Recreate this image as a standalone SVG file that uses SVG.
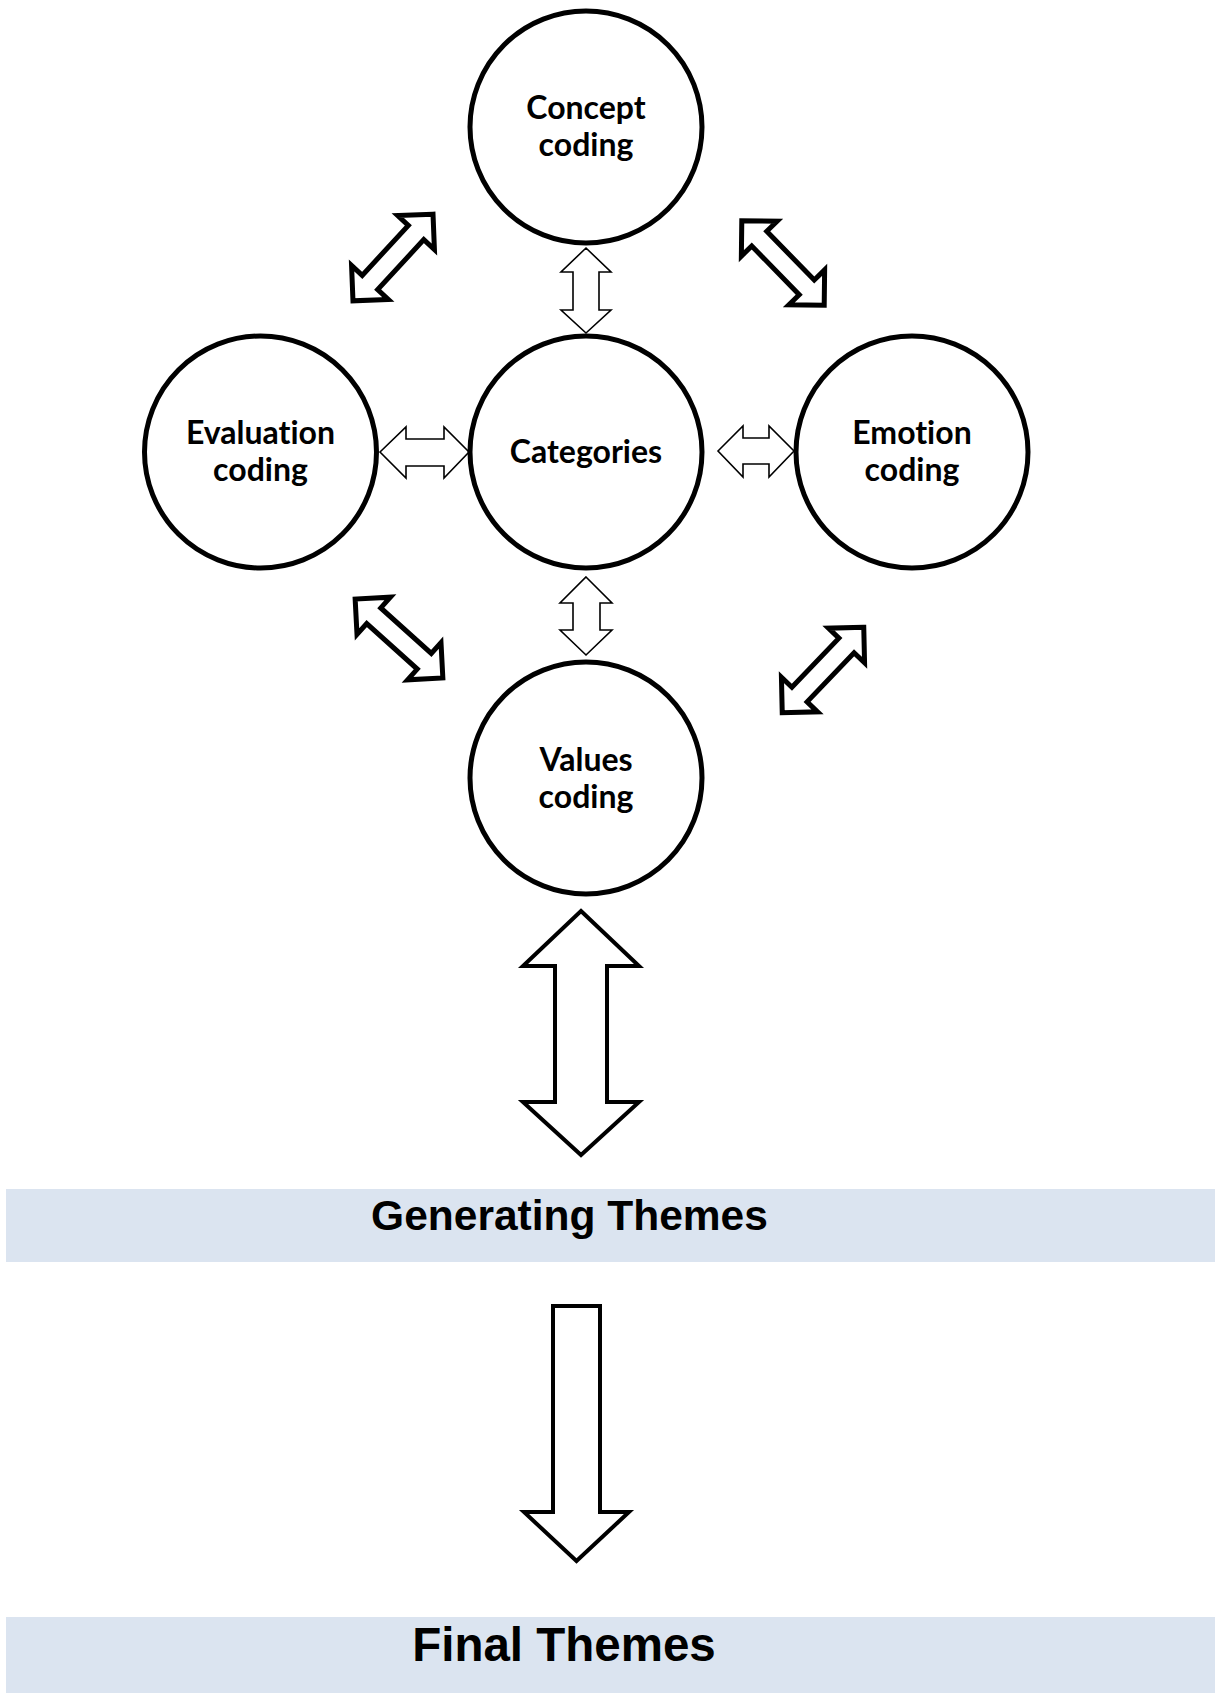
<svg xmlns="http://www.w3.org/2000/svg" width="1215" height="1693" viewBox="0 0 1215 1693">
<style>
.node circle{fill:#fff;stroke:#000;stroke-width:5}
.lbl{font-family:"Lato","Liberation Sans",sans-serif;font-weight:bold;font-size:32px;text-anchor:middle;fill:#000;font-variant-ligatures:none;font-feature-settings:"liga" 0,"clig" 0}
.thin{fill:#fff;stroke:#000;stroke-width:1.6;stroke-linejoin:miter}
.thick{fill:#fff;stroke:#000;stroke-width:5;stroke-linejoin:miter}
.bar{fill:#dbe4f0}
.bartxt{font-family:"Liberation Sans",Arial,sans-serif;font-weight:bold;text-anchor:middle;fill:#000}
</style>
<defs>
<path id="dbl" d="M59,0 L34,-25 L34,-10.5 L-34,-10.5 L-34,-25 L-59,0 L-34,25 L-34,10.5 L34,10.5 L34,25 Z"/>
</defs>
<rect width="1215" height="1693" fill="#fff"/>
<g id="connectors">
<use href="#dbl" class="thick" transform="translate(393,257.5) rotate(-47.3)"/>
<use href="#dbl" class="thick" transform="translate(783,263) rotate(45.7)"/>
<use href="#dbl" class="thick" transform="translate(399,638.5) rotate(42)"/>
<use href="#dbl" class="thick" transform="translate(823,670) rotate(-46.3)"/>
<path class="thin" d="M586,248 L611,272 L599,272 L599,310 L611,310 L586,333 L561,310 L573,310 L573,272 L561,272 Z"/>
<path class="thin" d="M586,577 L612,603 L600,603 L600,630 L612,630 L586,655 L560,630 L573,630 L573,603 L560,603 Z"/>
<path class="thin" d="M380,452 L406,427 L406,439 L444,439 L444,427 L469,452 L444,478 L444,466 L406,466 L406,478 Z"/>
<path class="thin" d="M718,451 L743,426 L743,438 L769,438 L769,426 L794,451 L769,477 L769,464 L743,464 L743,477 Z"/>
<path class="thick" style="stroke-width:4" d="M581,911 L639,966 L607,966 L607,1102 L639,1102 L581,1155 L523,1102 L555,1102 L555,966 L523,966 Z"/>
<path class="thick" style="stroke-width:4" d="M553,1306 L600,1306 L600,1512 L629,1512 L576.5,1561 L524,1512 L553,1512 Z"/>
</g>
<g id="concept" class="node"><circle cx="586" cy="127" r="116"/><text class="lbl" x="586" y="119">Concept</text><text class="lbl" x="586" y="156">coding</text></g>
<g id="categories" class="node"><circle cx="586" cy="452" r="116"/><text class="lbl" x="586" y="463">Categories</text></g>
<g id="evaluation" class="node"><circle cx="260.5" cy="452" r="116"/><text class="lbl" x="260.5" y="444">Evaluation</text><text class="lbl" x="260.5" y="481">coding</text></g>
<g id="emotion" class="node"><circle cx="912" cy="452" r="116"/><text class="lbl" x="912" y="444">Emotion</text><text class="lbl" x="912" y="481">coding</text></g>
<g id="values" class="node"><circle cx="586" cy="778" r="116"/><text class="lbl" x="586" y="771">Values</text><text class="lbl" x="586" y="808">coding</text></g>
<g id="generating"><rect class="bar" x="6" y="1189" width="1209" height="73"/><text class="bartxt" x="569.5" y="1230" font-size="42.5">Generating Themes</text></g>
<g id="final"><rect class="bar" x="6" y="1617" width="1209" height="76"/><text class="bartxt" x="564" y="1661" font-size="47.5">Final Themes</text></g>
</svg>
